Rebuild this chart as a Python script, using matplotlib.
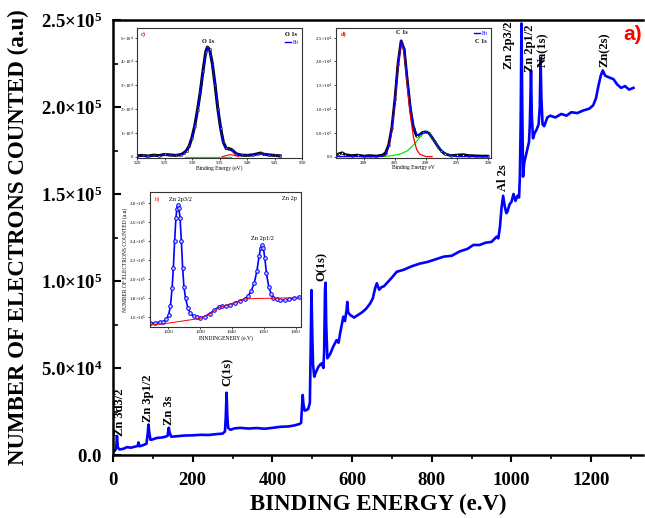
import matplotlib
matplotlib.use("Agg")
import matplotlib.pyplot as plt
from matplotlib.ticker import FixedLocator, FixedFormatter, MultipleLocator

plt.rcParams['font.family'] = 'Liberation Serif'
plt.rcParams['mathtext.fontset'] = 'custom'
plt.rcParams['mathtext.rm'] = 'Liberation Serif'
plt.rcParams['mathtext.bf'] = 'Liberation Serif:bold'
plt.rcParams['mathtext.it'] = 'Liberation Serif:italic'

# ---- survey spectrum (main panel a) ----
survey_ev = [0, 5, 8, 10, 12, 16, 25, 35, 45, 55, 62, 64, 66, 75, 84, 87, 89, 91, 94,
             100, 110, 120, 130, 137, 140, 142, 146, 160, 180, 200, 220, 240, 260, 275,
             281, 283, 285, 287, 289, 295, 305, 320, 340, 360, 380, 400, 420, 440, 455,
             468, 472, 474, 476, 478, 481, 485, 490, 494, 496, 498, 500, 502, 505, 510,
             515, 520, 524, 528, 530, 532, 533.5, 535, 538, 545, 552, 561, 566, 570, 578,
             582, 586, 588, 590, 595, 605, 615, 625, 635, 645, 652, 658, 662, 668, 674,
             680, 690, 700, 712, 730, 750, 770, 790, 810, 830, 850, 870, 890, 904, 920,
             935, 950, 963, 967, 971, 975, 979, 983, 987, 990, 995, 1000, 1005, 1010,
             1015, 1019, 1021, 1023, 1025, 1027, 1029, 1032, 1038, 1044, 1046, 1048,
             1049, 1051, 1054, 1058, 1063, 1068, 1071, 1073, 1075, 1078, 1082, 1090,
             1097, 1110, 1125, 1138, 1150, 1165, 1180, 1195, 1205, 1212, 1218, 1224,
             1229, 1235, 1245, 1256, 1265, 1275, 1285, 1295, 1306]
survey_counts = [2000, 2500, 4000, 11000, 4500, 3200, 3500, 4500, 4200, 4800, 5200, 7200,
                 5000, 5600, 6500, 12000, 17500, 13000, 8700, 9000, 9800, 10000, 10400,
                 11000, 15700, 13000, 10500, 10800, 11200, 11300, 11600, 11500, 12000,
                 12300, 13500, 22000, 35800, 22000, 15500, 14500, 15300, 15600, 15200,
                 15500, 15100, 15600, 16200, 16400, 17000, 17800, 18500, 26000, 34500,
                 29000, 25500, 25800, 26500, 30000, 60000, 94800, 70000, 52000, 45000,
                 48000, 50500, 52000, 52700, 50000, 60000, 95000, 99000, 75000, 55600,
                 58000, 62000, 66000, 64500, 70000, 79500, 77000, 83000, 88000, 82000,
                 80500, 79000, 80500, 82000, 84000, 87000, 90000, 96000, 98700, 95000,
                 96500, 97000, 99500, 102000, 105300, 106500, 108500, 110000, 111000,
                 112500, 114000, 114500, 117000, 118500, 120700, 120700, 122000, 122500,
                 125500, 124500, 131000, 142000, 149000, 143000, 139000, 140000, 144000,
                 145500, 150000, 146000, 149000, 148000, 160000, 190000, 248000, 200000,
                 160000, 168000, 174000, 180000, 190000, 210000, 221000, 195000, 182000,
                 185000, 187000, 190000, 200000, 228000, 205000, 190000, 189000, 194000,
                 195000, 194000, 196000, 195000, 197000, 196500, 198000, 199000, 201000,
                 205000, 212000, 218000, 221000, 218000, 217000, 216000, 213000, 211000,
                 212000, 210000, 211000]

peak_names = ['Zn 3d3/2', 'Zn 3p1/2', 'Zn 3s', 'C(1s)', 'O(1s)', 'Al 2s',
              'Zn 2p3/2', 'Zn 2p1/2', 'Na(1s)', 'Zn(2s)']
peak_label_ev = [18, 89, 140, 288, 523, 979, 993, 1046, 1080, 1235]
peak_label_counts = [24400, 32800, 25900, 48000, 108600, 159500, 235300, 234000,
                     233000, 233000]

main_yticks = [0, 5e4, 1e5, 1.5e5, 2e5, 2.5e5]
main_ytick_labels = [r'$\mathbf{0.0}$', r'$\mathbf{5.0{\times}10^4}$',
                     r'$\mathbf{1.0{\times}10^5}$', r'$\mathbf{1.5{\times}10^5}$',
                     r'$\mathbf{2.0{\times}10^5}$', r'$\mathbf{2.5{\times}10^5}$']

# ---- inset c : O 1s ----
o1s_ev = [520, 521, 522, 523, 524, 525, 526, 527, 528, 528.5, 529, 529.5, 530, 530.5,
          531, 531.5, 532, 532.5, 532.8, 533.2, 533.7, 534.2, 534.7, 535.2, 535.7,
          536.2, 536.8, 537.3, 538, 539, 540, 541, 542, 542.5, 543, 544, 545, 546]
o1s_data = [300, 500, 200, 600, 400, 900, 700, 500, 800, 1500, 2500, 4500, 8000, 13000,
            19500, 27000, 36000, 44000, 46000, 45000, 39000, 30000, 20000, 12000, 6000,
            3500, 3300, 2800, 1200, 600, 500, 700, 1200, 1500, 1000, 700, 500, 300]
o1s_fit = [200, 300, 300, 400, 400, 600, 600, 600, 700, 1300, 2300, 4300, 7800, 12800,
           19300, 26800, 35800, 43800, 45800, 44800, 38800, 29800, 19800, 11800, 5800,
           3000, 3000, 2600, 1100, 600, 500, 700, 1100, 1300, 1000, 700, 500, 300]
o1s_sat_ev = [535.5, 536.5, 537, 537.5, 538.5]
o1s_sat = [0, 600, 800, 600, 0]
o1s_base_ev = [528.8, 537]
o1s_base = [0, 0]

# ---- inset d : C 1s ----
c1s_ev = [275.5, 276, 276.5, 277, 278, 279, 280, 281, 282, 283, 283.5, 284, 284.5, 285,
          285.5, 286, 286.5, 287, 287.5, 288, 288.5, 289, 289.5, 290, 290.5, 291, 291.5,
          292, 292.5, 293, 294, 295, 296, 297, 298, 299, 300]
c1s_data = [300, 600, 800, 400, 200, 300, 100, 200, 100, 300, 800, 2500, 6000, 12000,
            19500, 24300, 22500, 16000, 10000, 6000, 4300, 4600, 5100, 5200, 4900, 4000,
            3000, 2000, 1200, 600, 200, 300, 400, 200, 150, 100, 100]
c1s_fit = [0, 0, 0, 0, 0, 0, 0, 0, 0, 100, 400, 2100, 5700, 11800, 19300, 24300, 22700,
           16200, 10500, 6400, 4700, 4500, 4900, 5100, 4800, 4000, 3000, 2000, 1300, 800,
           200, 0, 0, 0, 0, 0, 0]
c1s_p1_ev = [283, 283.5, 284, 284.5, 285, 285.5, 286, 286.5, 287, 287.5, 288, 288.5,
             289, 290, 291]
c1s_p1 = [0, 300, 2000, 5500, 11500, 19000, 24000, 22000, 15000, 8500, 4000, 1500, 500,
          0, 0]
c1s_p2_ev = [282.6, 284, 285, 286, 287, 288, 289, 289.8, 290.5, 291, 292, 293, 294, 295]
c1s_p2 = [0, 100, 300, 600, 1200, 2400, 4000, 5100, 4800, 4000, 2000, 800, 200, 0]

# ---- inset b : Zn 2p ----
zn2p_ev = [1014.4, 1016, 1017.5, 1018.6, 1019.5, 1020.2, 1020.8, 1021.3, 1021.7, 1022.1,
           1022.5, 1022.8, 1023.1, 1023.4, 1023.8, 1024.2, 1024.6, 1025.0, 1025.5,
           1026.2, 1027.0, 1028.0, 1029.0, 1030.0, 1031.5, 1033.0, 1034.5, 1036.0,
           1037.0, 1038.0, 1039.5, 1041.0, 1042.5, 1044.0, 1045.0, 1046.0, 1047.0,
           1047.8, 1048.5, 1049.0, 1049.4, 1049.8, 1050.3, 1050.8, 1051.5, 1052.3,
           1053.0, 1054.0, 1055.0, 1056.5, 1058.0, 1059.5, 1061.0]
zn2p_counts = [153400, 153800, 154500, 155000, 157500, 162000, 172000, 190000, 212000,
               240000, 264000, 274000, 278000, 275000, 264000, 240000, 212000, 192000,
               180000, 170000, 164000, 161000, 159500, 159000, 160500, 163500, 167000,
               171000, 172000, 171500, 173000, 175000, 177000, 179000, 182000, 187000,
               196000, 208000, 224000, 233000, 236000, 233000, 222000, 206000, 192000,
               184000, 180500, 178500, 177500, 177500, 178500, 179500, 181000]
zn2p_bg_ev = [1014.4, 1020, 1025, 1030, 1033, 1036, 1040, 1044, 1048, 1052, 1056, 1061]
zn2p_bg = [151500, 153500, 156000, 158500, 163000, 170000, 174000, 179000, 179500,
           179700, 180000, 180500]

BLUE = '#0000ff'
fig = plt.figure(figsize=(6.45, 5.18), dpi=100)

# main axes
ax = fig.add_axes([113/645, 1-455/518, 530/645, 435/518])
ax.plot(survey_ev, survey_counts, color=BLUE, lw=1.9)
ax.set_xlim(0, 1330)
ax.set_ylim(0, 2.5e5)
ax.spines['right'].set_visible(False)
for s in ['left', 'bottom', 'top']:
    ax.spines[s].set_linewidth(1.8)
ax.xaxis.set_major_locator(MultipleLocator(200))
ax.xaxis.set_minor_locator(MultipleLocator(100))
ax.yaxis.set_major_locator(FixedLocator(main_yticks))
ax.yaxis.set_major_formatter(FixedFormatter(main_ytick_labels))
ax.yaxis.set_minor_locator(MultipleLocator(2.5e4))
ax.tick_params(axis='x', which='major', direction='out', length=5, width=1.5, labelsize=13.5, pad=7)
ax.tick_params(axis='x', which='minor', direction='out', length=3, width=1.2)
ax.tick_params(axis='y', which='major', direction='in', length=6, width=1.5, labelsize=13.5, pad=8)
ax.tick_params(axis='y', which='minor', direction='in', length=3.5, width=1.2)
for lab in ax.get_xticklabels():
    lab.set_fontweight('bold')
ax.set_xlabel('BINDING ENERGY (e.V)', fontsize=16.5, fontweight='bold', labelpad=4)
ax.set_ylabel('NUMBER OF ELECTRONS COUNTED (a.u)', fontsize=16.5, fontweight='bold', labelpad=8)

for name, xe, yc in zip(peak_names, peak_label_ev, peak_label_counts):
    ax.text(xe, yc, name, rotation=90, ha='center', va='center', fontsize=9,
            fontweight='bold')
ax.text(0.981, 0.966, 'a)', transform=ax.transAxes, color='red', fontsize=15,
        fontweight='bold', family='Liberation Sans', ha='center', va='center')


def style_inset(a):
    for s in a.spines.values():
        s.set_linewidth(0.8)
        s.set_color('#333333')
    a.tick_params(which='both', direction='out', length=1.5, width=0.5, labelsize=3.5, pad=1)


# inset c : O 1s
ac = fig.add_axes([137/645, 1-158/518, 165/645, 130/518])
ac.plot(o1s_ev, o1s_data, color='black', lw=2.2, marker='o', ms=1.6, mfc='white', mew=0.4)
ac.plot(o1s_base_ev, o1s_base, color='#00ee00', lw=0.9)
ac.plot(o1s_sat_ev, o1s_sat, color='red', lw=0.8)
fit_c, = ac.plot(o1s_ev, o1s_fit, color=BLUE, lw=1.0)
ac.set_xlim(520, 550)
ac.set_ylim(-600, 5.4e4)
ac.xaxis.set_major_locator(MultipleLocator(5))
ac.yaxis.set_major_locator(FixedLocator([0, 1e4, 2e4, 3e4, 4e4, 5e4]))
ac.yaxis.set_major_formatter(FixedFormatter(['0', r'$1{\times}10^4$', r'$2{\times}10^4$',
                                             r'$3{\times}10^4$', r'$4{\times}10^4$',
                                             r'$5{\times}10^4$']))
style_inset(ac)
ac.set_xlabel('Binding Energy (eV)', fontsize=4, labelpad=0)
ac.text(533, 4.85e4, 'O 1s', fontsize=4.5, fontweight='bold', ha='center', va='center')
ac.text(0.97, 0.95, 'O 1s', transform=ac.transAxes, fontsize=4.5, fontweight='bold',
        ha='right', va='center')
ac.legend([fit_c], ['Fit'], loc='upper right', bbox_to_anchor=(1.0, 0.93), frameon=False,
          fontsize=4, handlelength=1.0, handletextpad=0.3, borderpad=0.1, labelcolor=BLUE)
ac.text(0.02, 0.95, 'c)', transform=ac.transAxes, color='red', fontsize=4.5,
        fontweight='bold', va='center')

# inset d : C 1s
ad = fig.add_axes([336/645, 1-158/518, 155/645, 130/518])
ad.plot(c1s_ev, c1s_data, color='black', lw=2.0, marker='o', ms=1.4, mfc='white', mew=0.4)
ad.plot(c1s_p2_ev, c1s_p2, color='#00ee00', lw=0.9)
ad.plot(c1s_p1_ev, c1s_p1, color='red', lw=0.9)
fit_d, = ad.plot(c1s_ev, c1s_fit, color=BLUE, lw=1.0)
ad.set_xlim(275.5, 300.5)
ad.set_ylim(-300, 2.7e4)
ad.xaxis.set_major_locator(MultipleLocator(5))
ad.yaxis.set_major_locator(FixedLocator([0, 5e3, 1e4, 1.5e4, 2e4, 2.5e4]))
ad.yaxis.set_major_formatter(FixedFormatter(['0.0', r'$5.0{\times}10^3$',
                                             r'$1.0{\times}10^4$', r'$1.5{\times}10^4$',
                                             r'$2.0{\times}10^4$', r'$2.5{\times}10^4$']))
style_inset(ad)
ad.set_xlabel('Binding Energy eV', fontsize=4, labelpad=0)
ad.text(286.1, 2.6e4, 'C 1s', fontsize=4.5, fontweight='bold', ha='center', va='center')
ad.legend([fit_d], ['Fit'], loc='upper right', bbox_to_anchor=(1.0, 1.0), frameon=False,
          fontsize=4, handlelength=1.0, handletextpad=0.3, borderpad=0.1, labelcolor=BLUE)
ad.text(0.97, 0.9, 'C 1s', transform=ad.transAxes, fontsize=4.5, fontweight='bold',
        ha='right', va='center')
ad.text(0.03, 0.95, 'd)', transform=ad.transAxes, color='red', fontsize=4.5,
        fontweight='bold', va='center')

# inset b : Zn 2p
ab = fig.add_axes([150/645, 1-327/518, 151/645, 135/518])
ab.plot(zn2p_ev, zn2p_counts, color=BLUE, lw=1.2, marker='o', ms=2.6, mfc='#c8c8ff',
        mew=0.7)
ab.plot(zn2p_bg_ev, zn2p_bg, color='red', lw=0.7)
ab.set_xlim(1014.4, 1061.6)
ab.set_ylim(1.495e5, 2.915e5)
ab.xaxis.set_major_locator(MultipleLocator(10))
zn_ticks = [1.6e5, 1.8e5, 2.0e5, 2.2e5, 2.4e5, 2.6e5, 2.8e5]
ab.yaxis.set_major_locator(FixedLocator(zn_ticks))
ab.yaxis.set_major_formatter(FixedFormatter([r'$1.6{\times}10^5$', r'$1.8{\times}10^5$',
                                             r'$2.0{\times}10^5$', r'$2.2{\times}10^5$',
                                             r'$2.4{\times}10^5$', r'$2.6{\times}10^5$',
                                             r'$2.8{\times}10^5$']))
style_inset(ab)
ab.set_xlabel('BINDINGENERY (e.V)', fontsize=4, labelpad=0.5)
ab.set_ylabel('NUMBER OF ELECTRONS COUNTED (a.u)', fontsize=4, labelpad=1)
ab.text(1024, 2.84e5, 'Zn 2p3/2', fontsize=4.5, ha='center', va='center')
ab.text(1049.5, 2.43e5, 'Zn 2p1/2', fontsize=4.5, ha='center', va='center')
ab.text(0.97, 0.95, 'Zn 2p', transform=ab.transAxes, fontsize=4.5, ha='right', va='center')
ab.text(0.03, 0.95, 'b)', transform=ab.transAxes, color='red', fontsize=4.5, va='center')

fig.savefig('out.png', dpi=100)
